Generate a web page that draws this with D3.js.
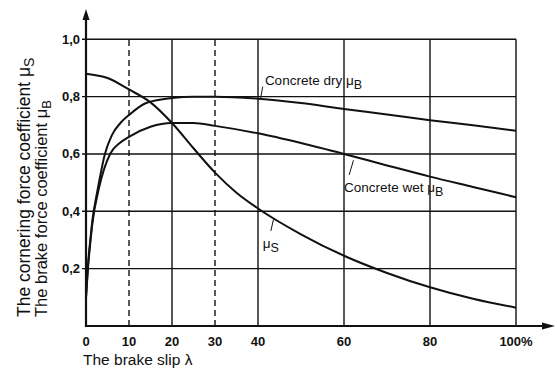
<!DOCTYPE html>
<html><head><meta charset="utf-8">
<script src="https://cdn.jsdelivr.net/npm/d3@7"></script>
<style>
html,body{margin:0;padding:0;background:#fff;}
text{font-family:"Liberation Sans",Arial,Helvetica,sans-serif;fill:#111;}
</style></head>
<body><svg id="c" width="557" height="372"></svg>
<script>
// ---- data ----
const xTicks = [0,10,20,30,40,60,80,100];
const xTickLabels = ["0","10","20","30","40","60","80","100%"];
const yTicks = [0.2,0.4,0.6,0.8,1.0];
const yTickLabels = ["0,2","0,4","0,6","0,8","1,0"];
const solidGridX = [20,40,60,80,100];
const dashedGridX = [10,30];

const slipDry = [0,0.5,1,1.5,2.5,3,4.4,6,8,10,14,20,25,30,40,50,60,70,80,90,100];
const muDry   = [0.10,0.22,0.30,0.37,0.46,0.50,0.60,0.665,0.708,0.736,0.778,0.795,0.800,0.800,0.793,0.778,0.757,0.738,0.718,0.700,0.681];

const slipWet = [0,0.5,1,1.5,3,5.6,8,10,15,20,25,30,40,50,60,70,80,90,100];
const muWet   = [0.10,0.21,0.29,0.36,0.48,0.60,0.64,0.66,0.695,0.708,0.708,0.698,0.672,0.638,0.600,0.560,0.521,0.485,0.449];

const slipS = [0,5,10,15,20,25,30,35,40,50,60,70,80,90,100];
const muS   = [0.88,0.865,0.825,0.78,0.708,0.62,0.535,0.465,0.41,0.32,0.245,0.185,0.135,0.095,0.064];

// ---- chart ----
const svg = d3.select("#c");
const x = d3.scaleLinear().domain([0,100]).range([86,516]);
const y = d3.scaleLinear().domain([0,1]).range([326,39.3]);
const [x0,x1] = x.range();
const [y0,y1] = y.range();

const g = svg.append("g");

// horizontal grid (with short ticks left of axis)
g.selectAll(".hg").data(yTicks).join("line")
  .attr("x1", x0-4).attr("x2", x1)
  .attr("y1", d=>y(d)).attr("y2", d=>y(d))
  .attr("stroke","#111").attr("stroke-width",1.4);
// vertical solid grid
g.selectAll(".vg").data(solidGridX).join("line")
  .attr("x1", d=>x(d)).attr("x2", d=>x(d))
  .attr("y1", y(0)).attr("y2", y(1))
  .attr("stroke","#111").attr("stroke-width",1.4);
// dashed
g.selectAll(".vd").data(dashedGridX).join("line")
  .attr("x1", d=>x(d)).attr("x2", d=>x(d))
  .attr("y1", y(0)).attr("y2", y(1))
  .attr("stroke","#111").attr("stroke-width",1.4).attr("stroke-dasharray","6,4");

// axes with arrows
g.append("line").attr("x1",x0).attr("x2",x0).attr("y1",y0+1).attr("y2",14)
  .attr("stroke","#111").attr("stroke-width",2.2);
g.append("path").attr("d",`M${x0-3.5},20 L${x0},9 L${x0+3.5},20 Z`).attr("fill","#111");
g.append("line").attr("x1",x0-1).attr("x2",548).attr("y1",y0).attr("y2",y0)
  .attr("stroke","#111").attr("stroke-width",2.2);
g.append("path").attr("d",`M542,${y0-3.5} L555,${y0} L542,${y0+3.5} Z`).attr("fill","#111");

// tick labels
g.selectAll(".yl").data(yTicks).join("text")
  .attr("x", x0-6).attr("y", d=>y(d)+4.5)
  .attr("text-anchor","end").attr("font-size",13).attr("font-weight","bold")
  .text((d,i)=>yTickLabels[i]);
g.selectAll(".xl").data(xTicks).join("text")
  .attr("x", d=>x(d)).attr("y", 346)
  .attr("text-anchor","middle").attr("font-size",13).attr("font-weight","bold")
  .text((d,i)=>xTickLabels[i]);

// curves
const line = d3.line().x(d=>x(d[0])).y(d=>y(d[1])).curve(d3.curveMonotoneX);
[[slipDry,muDry],[slipWet,muWet],[slipS,muS]].forEach(([xs,ys])=>{
  g.append("path").attr("d", line(xs.map((v,i)=>[v,ys[i]])))
   .attr("fill","none").attr("stroke","#111").attr("stroke-width",2);
});

// annotations
function label(lx, ly, main, sub){
  const t = g.append("text").attr("x",x(lx)).attr("y",y(ly)).attr("font-size",13.5);
  t.append("tspan").text(main);
  t.append("tspan").attr("dy",4).attr("font-size",12.5).text(sub);
}
function leader(a,b,c,d){
  g.append("line").attr("x1",x(a)).attr("y1",y(b)).attr("x2",x(c)).attr("y2",y(d))
   .attr("stroke","#111").attr("stroke-width",1);
}
label(41.6, 0.842, "Concrete dry \u03bc", "B");
leader(41.1, 0.835, 40.6, 0.793);
label(60.0, 0.468, "Concrete wet \u03bc", "B");
leader(62.2, 0.578, 61.2, 0.527);
label(41.1, 0.272, "\u03bc", "S");
leader(43.6, 0.372, 43.0, 0.332);

// axis titles
g.append("text").attr("x", x0-3).attr("y", 365).attr("font-size",15.5)
  .text("The brake slip \u03bb");
const yt1 = g.append("text").attr("transform","translate(30,317) rotate(-90)").attr("font-size",17.5);
yt1.append("tspan").text("The cornering force coefficient \u03bc");
yt1.append("tspan").attr("dy",4).attr("font-size",14).text("S");
const yt2 = g.append("text").attr("transform","translate(47,317) rotate(-90)").attr("font-size",16.5);
yt2.append("tspan").text("The brake force coefficient \u03bc");
yt2.append("tspan").attr("dy",4).attr("font-size",13).text("B");
</script></body></html>
